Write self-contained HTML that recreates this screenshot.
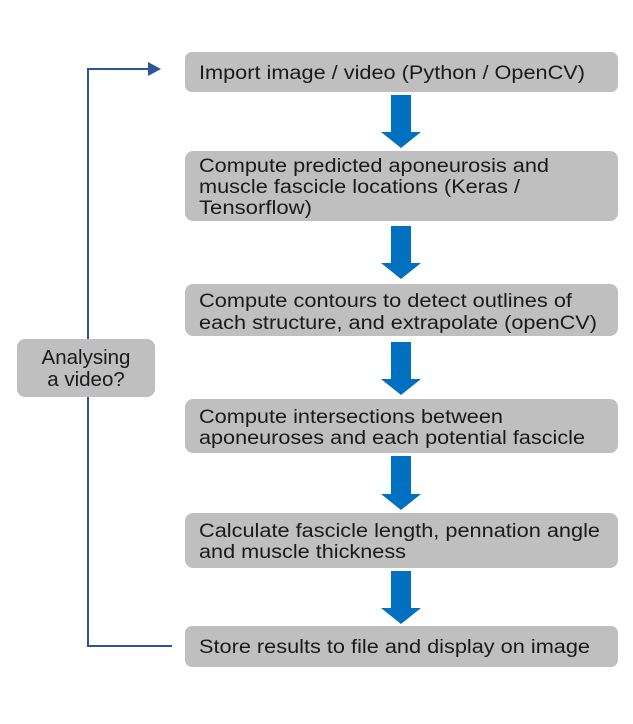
<!DOCTYPE html>
<html><head><meta charset="utf-8"><style>
html,body{margin:0;padding:0;background:#fff;}
svg{display:block;}
text{font-family:"Liberation Sans",Arial,sans-serif;font-size:19px;fill:#1a1a1a;}
.d{font-size:20.5px;}
</style></head><body>
<svg width="633" height="724" viewBox="0 0 633 724" xmlns="http://www.w3.org/2000/svg">
<g fill="#bfbfbf">
<rect x="185" y="52" width="433" height="40" rx="7"/>
<rect x="185" y="151" width="433" height="70" rx="8"/>
<rect x="185" y="284" width="433" height="52" rx="8"/>
<rect x="185" y="399" width="433" height="54" rx="8"/>
<rect x="185" y="513" width="433" height="55" rx="8"/>
<rect x="185" y="626" width="433" height="41" rx="7"/>
<rect x="17" y="339" width="138" height="58" rx="8"/>
</g>
<g fill="#0070c0">
<polygon points="391,95 411,95 411,132 421,132 401,148 381,132 391,132"/>
<polygon points="391,226 411,226 411,263 421,263 401,279 381,263 391,263"/>
<polygon points="391,342 411,342 411,379 421,379 401,395 381,379 391,379"/>
<polygon points="391,456 411,456 411,494 421,494 401,510 381,494 391,494"/>
<polygon points="391,571 411,571 411,608 421,608 401,624 381,608 391,608"/>
</g>
<polyline points="88,339 88,69 150,69" fill="none" stroke="#2f5597" stroke-width="2"/>
<polygon points="148,62 161,69 148,76" fill="#2f5597"/>
<polyline points="88,397 88,646 172,646" fill="none" stroke="#2f5597" stroke-width="2"/>
<text x="199" y="79" textLength="386" lengthAdjust="spacingAndGlyphs">Import image / video (Python / OpenCV)</text>
<text x="199" y="172" textLength="350" lengthAdjust="spacingAndGlyphs">Compute predicted aponeurosis and</text>
<text x="199" y="193" textLength="321" lengthAdjust="spacingAndGlyphs">muscle fascicle locations (Keras /</text>
<text x="199" y="214" textLength="113" lengthAdjust="spacingAndGlyphs">Tensorflow)</text>
<text x="199" y="307" textLength="373" lengthAdjust="spacingAndGlyphs">Compute contours to detect outlines of</text>
<text x="199" y="329" textLength="398" lengthAdjust="spacingAndGlyphs">each structure, and extrapolate (openCV)</text>
<text x="199" y="423" textLength="304" lengthAdjust="spacingAndGlyphs">Compute intersections between</text>
<text x="199" y="444" textLength="386" lengthAdjust="spacingAndGlyphs">aponeuroses and each potential fascicle</text>
<text x="199" y="537" textLength="401" lengthAdjust="spacingAndGlyphs">Calculate fascicle length, pennation angle</text>
<text x="199" y="558" textLength="207" lengthAdjust="spacingAndGlyphs">and muscle thickness</text>
<text x="199" y="653" textLength="391" lengthAdjust="spacingAndGlyphs">Store results to file and display on image</text>
<text class="d" x="86" y="364" text-anchor="middle">Analysing</text>
<text class="d" x="86" y="386" text-anchor="middle">a video?</text>
</svg>
</body></html>
